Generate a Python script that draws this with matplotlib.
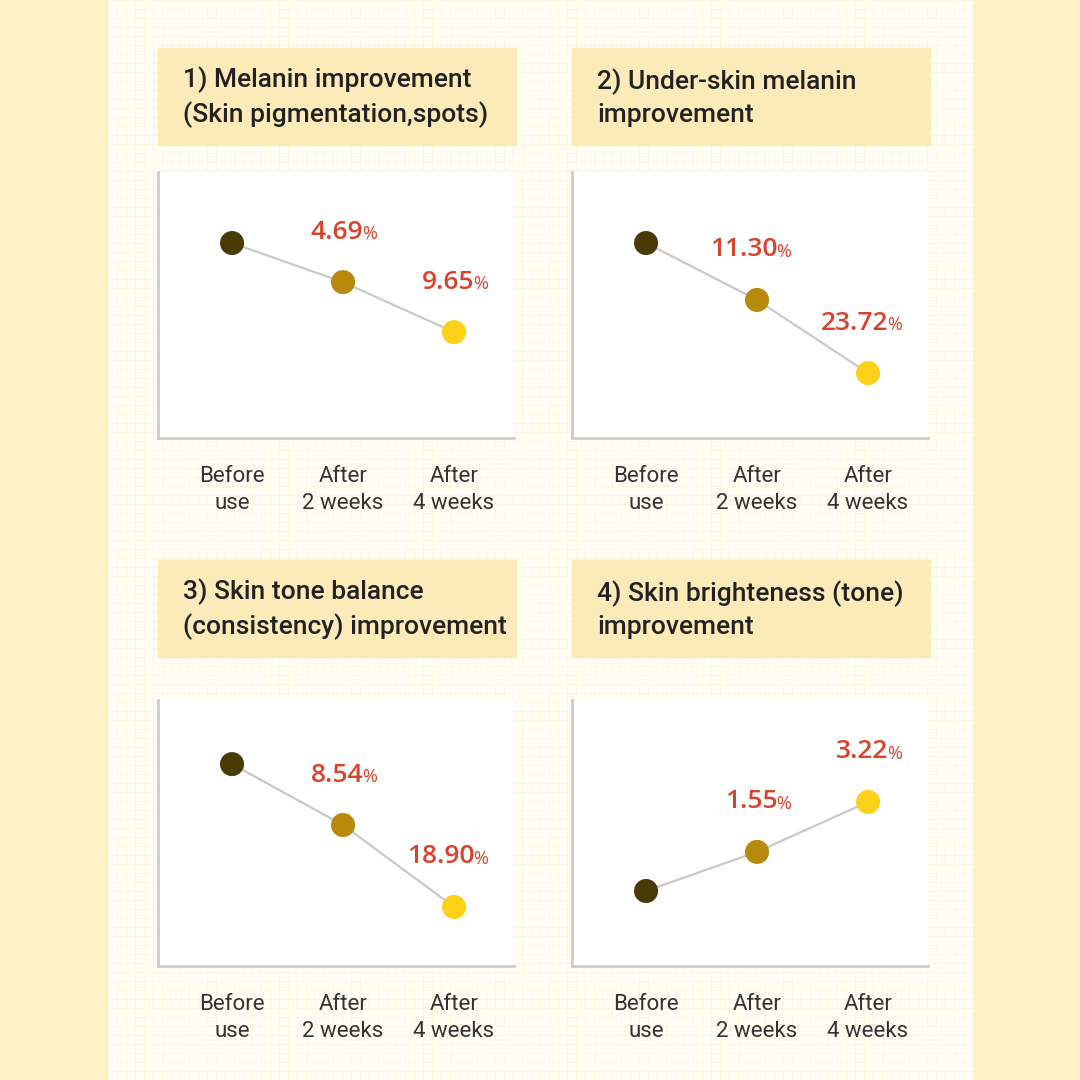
import matplotlib
matplotlib.use('Agg')
from matplotlib import pyplot as plt
from matplotlib.patches import Rectangle
import numpy as np

# chart data (relative display level, 0-100)
stages = ['Before\nuse', 'After\n2 weeks', 'After\n4 weeks']
titles = ['1) Melanin improvement\n(Skin pigmentation,spots)',
          '2) Under-skin melanin\nimprovement',
          '3) Skin tone balance\n(consistency) improvement',
          '4) Skin brighteness (tone)\nimprovement']
melanin = [73.3, 58.6, 39.8]
under_skin = [73.3, 51.9, 24.4]
tone_balance = [75.9, 53.0, 22.2]
brightness = [28.2, 42.9, 61.7]
melanin_pct = ['', '4.69', '9.65']
under_skin_pct = ['', '11.30', '23.72']
tone_balance_pct = ['', '8.54', '18.90']
brightness_pct = ['', '1.55', '3.22']

series = [melanin, under_skin, tone_balance, brightness]
pcts = [melanin_pct, under_skin_pct, tone_balance_pct, brightness_pct]

dot_colors = ['#4a3a08', '#b8890c', '#fdd118']
W = 1080

fig = plt.figure(figsize=(10.8, 10.8), dpi=100)
bg = fig.add_axes([0, 0, 1, 1])
bg.set_xlim(0, W)
bg.set_ylim(W, 0)
bg.axis('off')

# outer strips and the gridded paper in the middle
bg.add_patch(Rectangle((0, 0), W, W, color='#fdf1c6', zorder=0))
bg.add_patch(Rectangle((108, 0), 864, W, color='#fffdf4', zorder=1))
for g in np.arange(108, 972, 9):
    bg.plot([g, g], [0, W], color='#fbf5e2', lw=0.8, zorder=2)
for g in np.arange(0, W, 9):
    bg.plot([108, 972], [g, g], color='#fbf5e2', lw=0.8, zorder=2)

# panel layout in pixels: (left, title top, plot top)
panels = [(158, 48, 172), (572, 48, 172), (158, 560, 700), (572, 560, 700)]
box_w, box_h = 358, 97
plot_w, plot_h = 356, 266

for i, (left, ttop, ptop) in enumerate(panels):
    bg.add_patch(Rectangle((left, ttop), box_w, box_h, color='#fcebb9', zorder=3))
    bg.text(left + 25, ttop + box_h / 2 + 1, titles[i], ha='left', va='center',
            fontsize=19, family='Roboto', fontweight='medium', color='#222222',
            linespacing=1.4, zorder=4)

    ax = fig.add_axes([left / W, 1 - (ptop + plot_h) / W, plot_w / W, plot_h / W])
    ax.set_facecolor('white')
    x = np.arange(len(stages))
    ax.plot(x, series[i], color='#c9c9c9', lw=1.6, zorder=2)
    ax.scatter(x, series[i], s=300, c=dot_colors, zorder=3, edgecolors='none')
    for xi, yi, p in zip(x, series[i], pcts[i]):
        if not p:
            continue
        ax.annotate(p, (xi, yi), xytext=(14.5, 36), textcoords='offset points',
                    ha='right', va='center', fontsize=19, fontweight='semibold',
                    family='Open Sans', color='#d9432b')
        ax.annotate('%', (xi, yi), xytext=(14, 34.5), textcoords='offset points',
                    ha='left', va='center', fontsize=13,
                    family='Open Sans', color='#d9432b')
    ax.set_xlim(-0.667, 2.54)
    ax.set_ylim(0, 100)
    ax.set_yticks([])
    ax.set_xticks(x)
    ax.set_xticklabels(stages, family='Roboto', fontsize=16, color='#333333',
                       linespacing=1.4)
    ax.tick_params(axis='x', length=0, pad=20)
    for s in ['top', 'right']:
        ax.spines[s].set_visible(False)
    for s in ['left', 'bottom']:
        ax.spines[s].set_color('#cccccc')
        ax.spines[s].set_linewidth(2)

fig.savefig('out.png', dpi=100)
